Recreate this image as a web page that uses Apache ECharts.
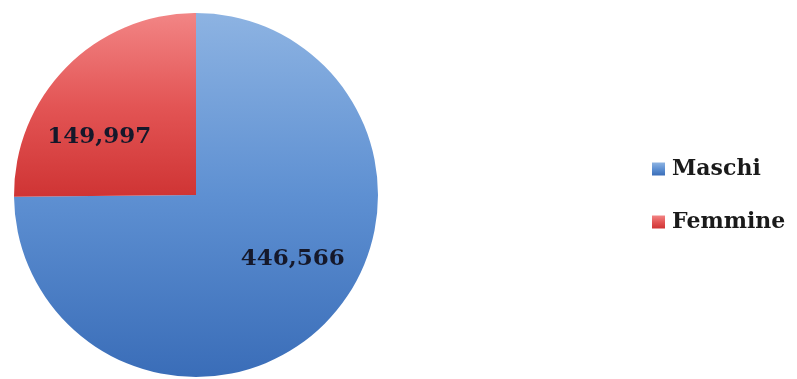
<!DOCTYPE html>
<html>
<head>
<meta charset="utf-8">
<style>
  html, body { margin: 0; padding: 0; background: #ffffff; }
  #chart { width: 797px; height: 379px; }
</style>
<script src="https://cdn.jsdelivr.net/npm/echarts@6/dist/echarts.min.js"></script>
</head>
<body>
<div id="chart"></div>
<script>
// Popolazione per sesso
const categories = ['Maschi', 'Femmine'];
const values = [446566, 149997];

// Gradient fills per slice (lighter at top, darker at bottom)
const sliceColors = [
  ['#8db3e2', '#5e90d2', '#3a6db8'],
  ['#f28585', '#e35555', '#cf3434']
];
// Label nudges from the default inside position
const labelOffsets = [[30, -2], [-30, 8]];

function vGradient(stops) {
  return new echarts.graphic.LinearGradient(0, 0, 0, 1, [
    { offset: 0, color: stops[0] },
    { offset: 0.5, color: stops[1] },
    { offset: 1, color: stops[2] }
  ]);
}

const chart = echarts.init(document.getElementById('chart'), null, { renderer: 'canvas' });

const fmt = v => v.toLocaleString('en-US');

chart.setOption({
  backgroundColor: '#ffffff',
  animation: false,
  legend: {
    orient: 'vertical',
    left: 647,
    top: 152,
    itemWidth: 13,
    itemHeight: 13,
    itemGap: 29,
    icon: 'rect',
    textStyle: {
      fontFamily: 'DejaVu Serif',
      fontWeight: 'bold',
      fontSize: 22,
      lineHeight: 24,
      color: '#1a1a1a',
      padding: [0, 0, 0, 2]
    },
    data: categories
  },
  series: [{
    type: 'pie',
    center: [196, 195],
    radius: 182,
    startAngle: 90,
    clockwise: true,
    avoidLabelOverlap: false,
    label: {
      show: true,
      position: 'inside',
      formatter: p => fmt(p.value),
      fontFamily: 'DejaVu Serif',
      fontWeight: 'bold',
      fontSize: 23,
      color: '#15182a'
    },
    labelLine: { show: false },
    itemStyle: { borderWidth: 0 },
    emphasis: { disabled: true },
    data: categories.map((name, i) => ({
      name: name,
      value: values[i],
      itemStyle: { color: vGradient(sliceColors[i]) },
      label: { offset: labelOffsets[i] }
    }))
  }]
});
</script>
</body>
</html>
